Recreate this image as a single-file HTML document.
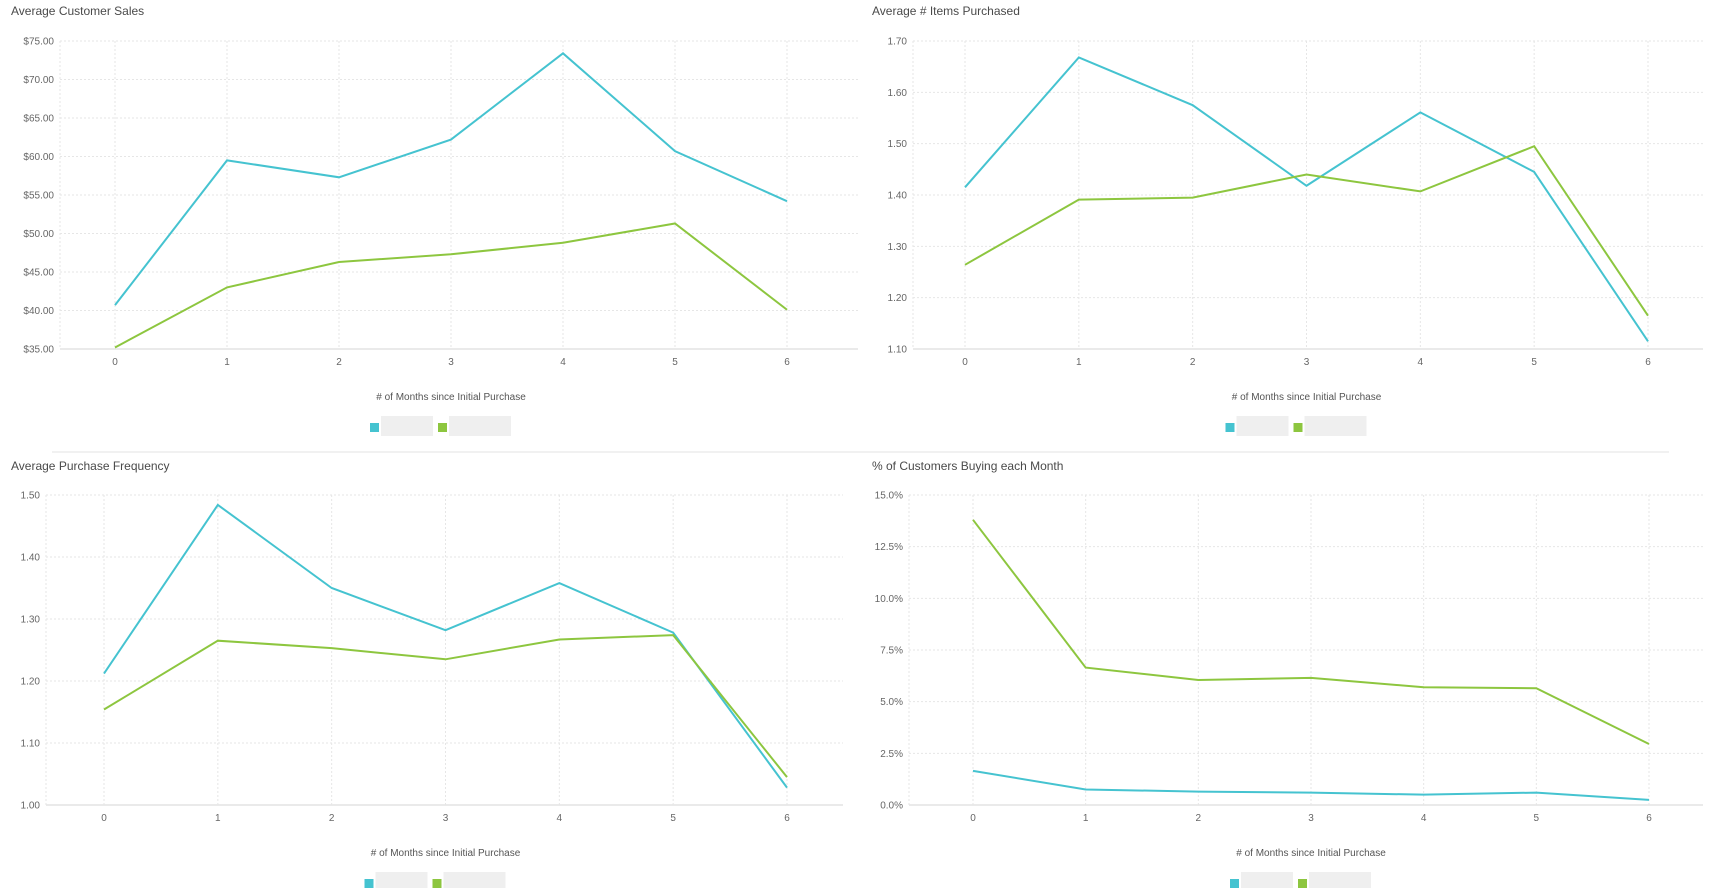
<!DOCTYPE html>
<html><head><meta charset="utf-8"><style>
body{margin:0;background:#fff;width:1720px;height:888px;overflow:hidden;font-family:"Liberation Sans",sans-serif}
svg text{font-family:"Liberation Sans",sans-serif}
</style></head><body>
<svg id="s" width="1720" height="888" xmlns="http://www.w3.org/2000/svg">
<line x1="52" y1="452" x2="1669" y2="452" stroke="#e3e3e3" stroke-width="1"/>
</svg>
<script>
const categories = [0,1,2,3,4,5,6];
const salesCyan = [40.7,59.5,57.3,62.2,73.4,60.7,54.2];
const salesGreen = [35.2,43.0,46.3,47.3,48.8,51.3,40.1];
const salesTicks = [35,40,45,50,55,60,65,70,75];
const itemsCyan = [1.415,1.668,1.575,1.418,1.561,1.445,1.115];
const itemsGreen = [1.264,1.391,1.395,1.440,1.407,1.495,1.165];
const itemsTicks = [1.1,1.2,1.3,1.4,1.5,1.6,1.7];
const freqCyan = [1.212,1.484,1.350,1.282,1.358,1.278,1.028];
const freqGreen = [1.154,1.265,1.253,1.235,1.267,1.274,1.045];
const freqTicks = [1.0,1.1,1.2,1.3,1.4,1.5];
const pctCyan = [1.65,0.75,0.65,0.6,0.5,0.6,0.25];
const pctGreen = [13.8,6.65,6.05,6.15,5.7,5.65,2.95];
const pctTicks = [0,2.5,5,7.5,10,12.5,15];

const NS='http://www.w3.org/2000/svg';
const svg=document.getElementById('s');
function mk(tag,attrs,parent){const e=document.createElementNS(NS,tag);for(const k in attrs)e.setAttribute(k,attrs[k]);(parent||svg).appendChild(e);return e;}

function chart(cfg,name){
  const g=mk('g',{});
  
  
  const tmin=cfg.ticks[0],tmax=cfg.ticks[cfg.ticks.length-1];
  const y=v=>cfg.yb-(v-tmin)/(tmax-tmin)*(cfg.yb-cfg.yt);
  const x=i=>cfg.c0+(cfg.c6-cfg.c0)*i/(categories.length-1);
  const t=mk('text',{x:cfg.tx,y:cfg.ty,'font-size':12,fill:'#4a4a4a'},g);t.textContent=cfg.title;
  
  
  cfg.ticks.forEach(v=>{
    const l=mk('line',{x1:cfg.px0,x2:cfg.px1,y1:y(v),y2:y(v),stroke:v===tmin?'#d5d5d5':'#e6e6e6','stroke-dasharray':v===tmin?'':'2,2'},g);
    
    
    const tl=mk('text',{x:cfg.px0-6,y:y(v)+3.5,'font-size':10,fill:'#666','text-anchor':'end'},g);
    tl.textContent=cfg.fmt(v);
    
    
  });
  mk('line',{x1:cfg.px0,x2:cfg.px0,y1:cfg.yt,y2:cfg.yb,stroke:'#e6e6e6','stroke-dasharray':'2,2'},g);
  categories.forEach((c,i)=>{
    const l=mk('line',{x1:x(i),x2:x(i),y1:cfg.yt,y2:cfg.yb,stroke:'#e6e6e6','stroke-dasharray':'2,2'},g);
    
    
    const tl=mk('text',{x:x(i),y:cfg.yb+16,'font-size':10,fill:'#666','text-anchor':'middle'},g);
    tl.textContent=c;
    
    
  });
  const at=mk('text',{x:(cfg.c0+cfg.c6)/2,y:cfg.yb+51,'font-size':10,fill:'#555','text-anchor':'middle'},g);
  at.textContent='# of Months since Initial Purchase';
  
  
  [[cfg.cyan,'#45c3d0','series-cyan'],[cfg.green,'#8dc63f','series-green']].forEach(([d,col,n])=>{
    const p=mk('polyline',{points:d.map((v,i)=>x(i)+','+y(v)).join(' '),fill:'none',stroke:col,'stroke-width':2},g);
    
    
  });
  const mid=(cfg.c0+cfg.c6)/2, ly=cfg.yb+74;
  [[-81,'#45c3d0',52],[-13,'#8dc63f',62]].forEach(([dx,col,w],k)=>{
    const r=mk('rect',{x:mid+dx,y:ly,width:9,height:9,fill:col},g);
    
    
    const b=mk('rect',{x:mid+dx+11,y:ly-7,width:w,height:20,fill:'#efefef'},g);
    
    
  });
}
chart({title:'Average Customer Sales',tx:11,ty:15,px0:60,px1:858,yt:41,yb:349,c0:115,c6:787,ticks:salesTicks,fmt:v=>'$'+v.toFixed(2),cyan:salesCyan,green:salesGreen},'chart-average-customer-sales');
chart({title:'Average # Items Purchased',tx:872,ty:15,px0:913,px1:1703,yt:41,yb:349,c0:965,c6:1648,ticks:itemsTicks,fmt:v=>v.toFixed(2),cyan:itemsCyan,green:itemsGreen},'chart-average-items');
chart({title:'Average Purchase Frequency',tx:11,ty:470,px0:46,px1:843,yt:495,yb:805,c0:104,c6:787,ticks:freqTicks,fmt:v=>v.toFixed(2),cyan:freqCyan,green:freqGreen},'chart-purchase-frequency');
chart({title:'% of Customers Buying each Month',tx:872,ty:470,px0:909,px1:1703,yt:495,yb:805,c0:973,c6:1649,ticks:pctTicks,fmt:v=>v.toFixed(1)+'%',cyan:pctCyan,green:pctGreen},'chart-pct-customers');
</script>
</body></html>
